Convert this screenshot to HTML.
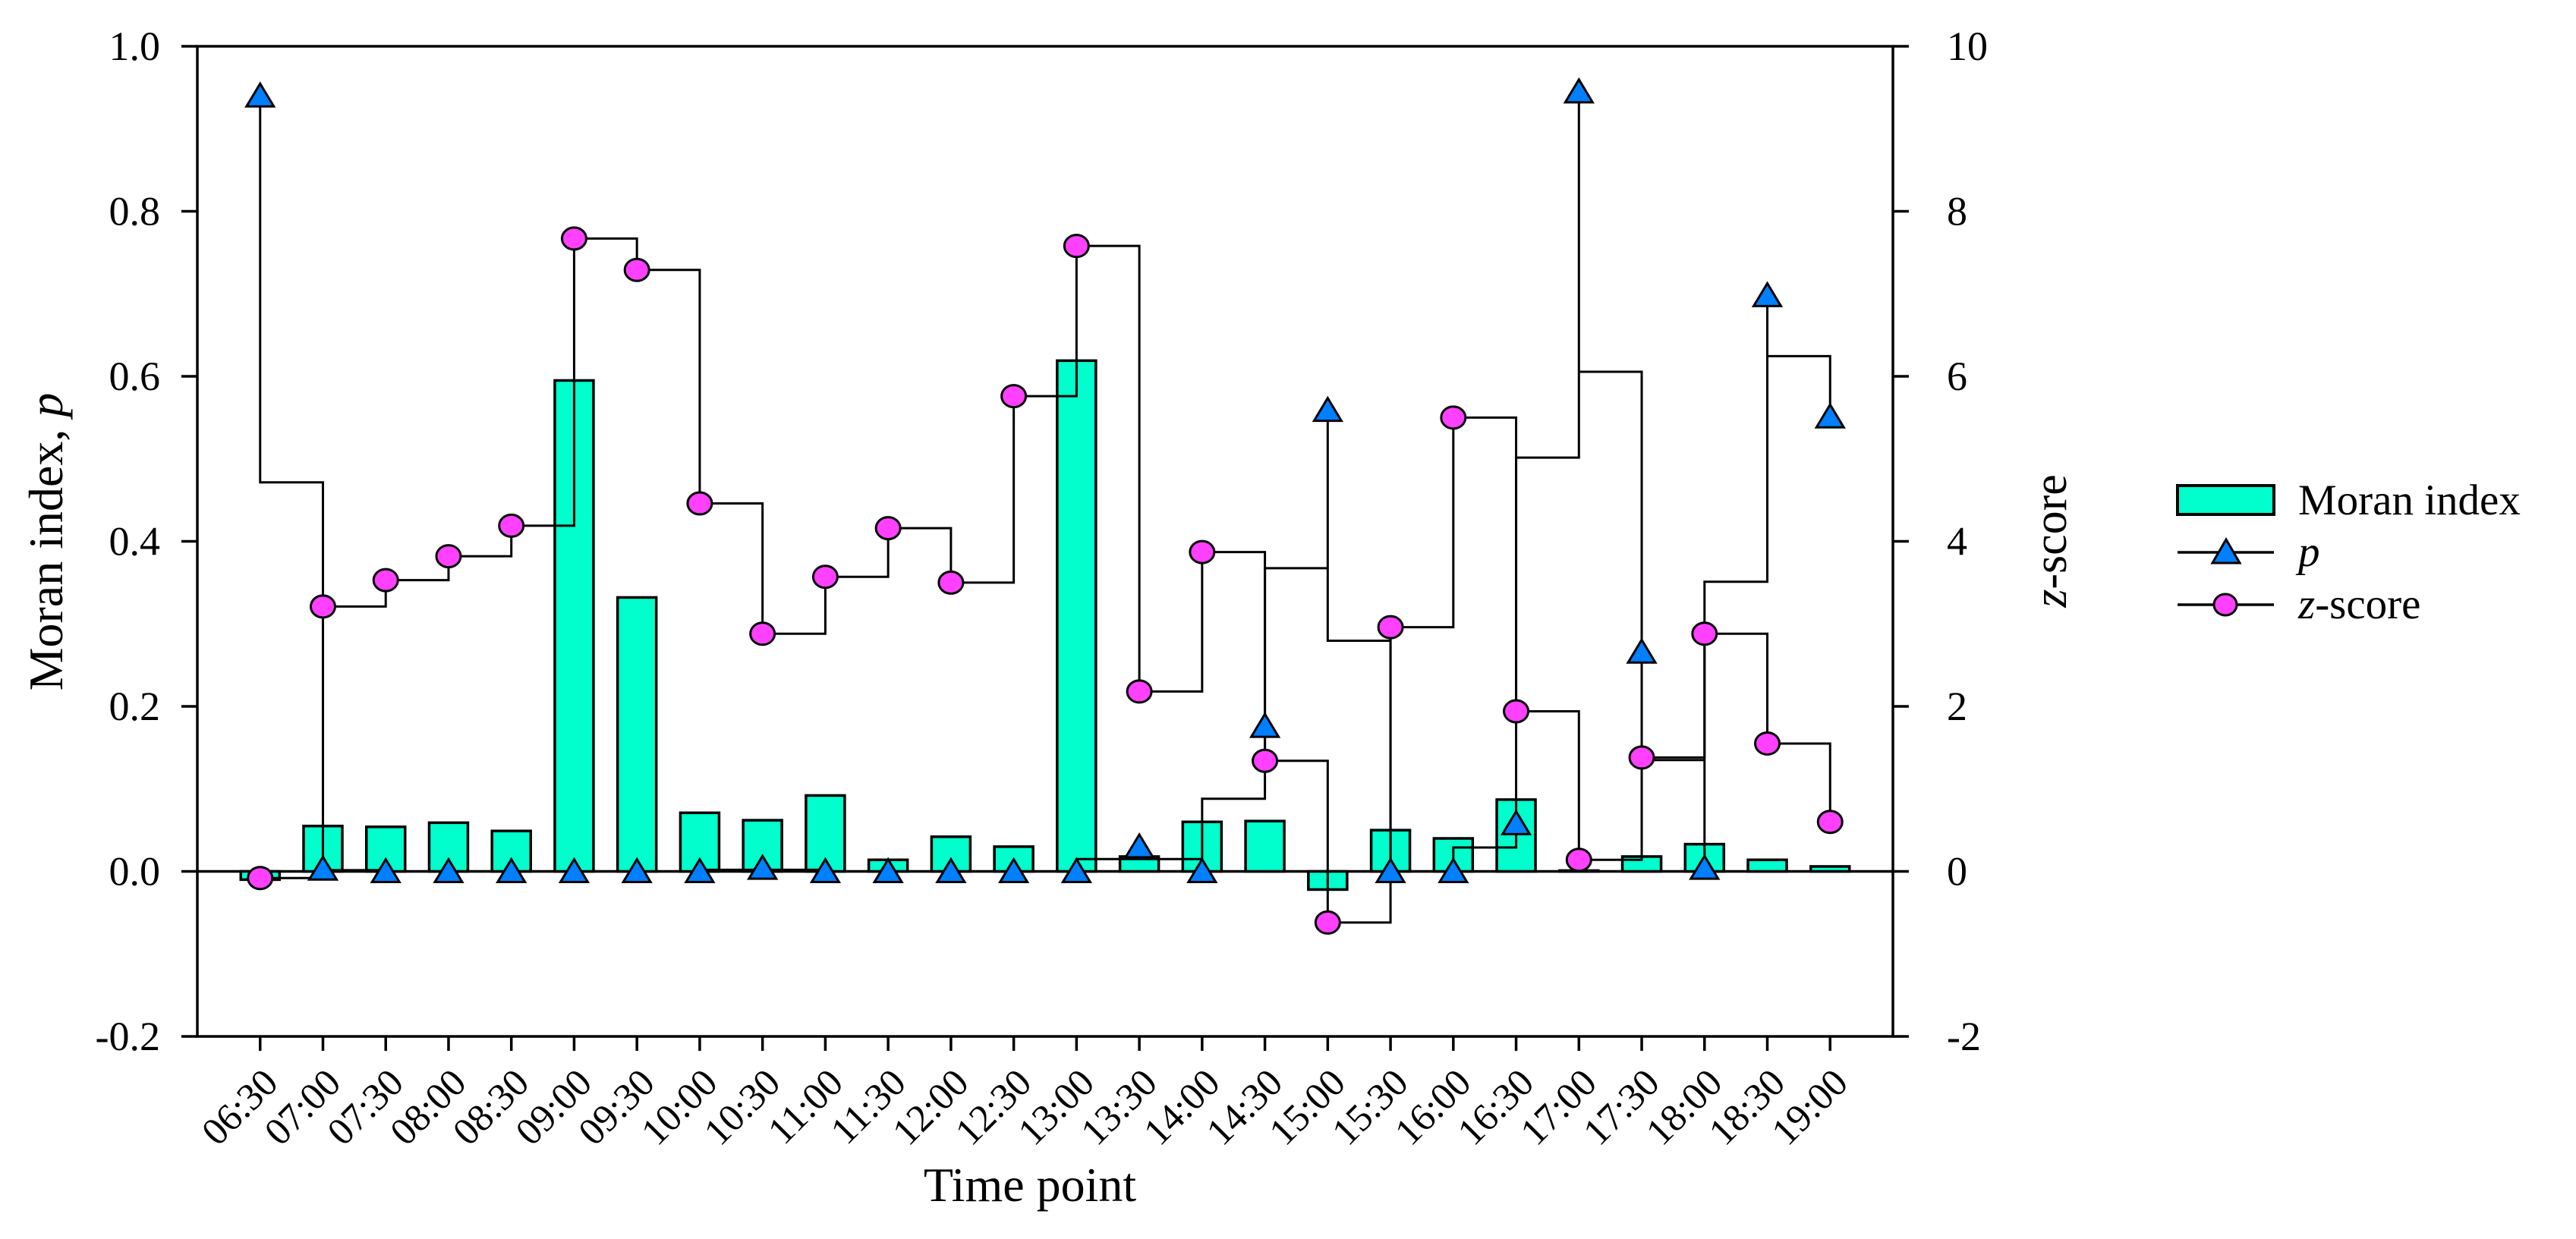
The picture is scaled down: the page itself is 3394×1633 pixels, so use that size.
<!DOCTYPE html>
<html><head><meta charset="utf-8"><style>
html,body{margin:0;padding:0;background:#fff;}
svg{display:block;font-family:"Liberation Serif",serif;}
</style></head><body>
<svg id="chart" width="3394" height="1633" viewBox="0 0 3394 1633" xmlns="http://www.w3.org/2000/svg">
<g id="axes"></g>
<g id="bars"></g>
<g id="lines"></g>
<g id="marks"></g>
<text x="1357" y="1583" font-size="64" text-anchor="middle">Time point</text>
<text transform="translate(82,714) rotate(-90)" font-size="64" text-anchor="middle">Moran index, <tspan font-style="italic">p</tspan></text>
<text transform="translate(2722,713) rotate(-90)" font-size="62" text-anchor="middle"><tspan font-style="italic">z</tspan>-score</text>
<g>
  <rect x="2869" y="640" width="127" height="38" fill="#00FFCC" stroke="#000" stroke-width="4"/>
  <text x="3028" y="678" font-size="57">Moran index</text>
  <line x1="2869" y1="728" x2="2996" y2="728" stroke="#000" stroke-width="3.5"/>
  <polygon points="2933,711 2951,742 2915,742" fill="#0080FF" stroke="#000" stroke-width="3"/>
  <text x="3028" y="746" font-size="57" font-style="italic">p</text>
  <line x1="2869" y1="797" x2="2996" y2="797" stroke="#000" stroke-width="3.5"/>
  <ellipse cx="2932" cy="797" rx="15" ry="14" fill="#FF40FF" stroke="#000" stroke-width="3"/>
  <text x="3028" y="815" font-size="57"><tspan font-style="italic">z</tspan>-score</text>
</g>
</svg>
<script>
const categories = ["06:30","07:00","07:30","08:00","08:30","09:00","09:30","10:00","10:30","11:00","11:30","12:00","12:30","13:00","13:30","14:00","14:30","15:00","15:30","16:00","16:30","17:00","17:30","18:00","18:30","19:00"];
const moranValues = [-0.01,0.055,0.054,0.059,0.049,0.595,0.332,0.071,0.062,0.092,0.014,0.042,0.030,0.619,0.018,0.060,0.061,-0.022,0.050,0.040,0.087,0.001,0.018,0.033,0.014,0.006];
const pValues = [0.94,0.003,0,0,0,0,0,0,0.004,0,0,0,0,0,0.030,0,0.176,0.559,0,0,0.058,0.945,0.266,0.004,0.698,0.551];
const zValues = [-0.08,3.21,3.53,3.82,4.19,7.67,7.29,4.46,2.88,3.57,4.16,3.50,5.76,7.58,2.18,3.87,1.34,-0.62,2.96,5.50,1.94,0.14,1.38,2.88,1.55,0.60];
const leftTicks = ["-0.2","0.0","0.2","0.4","0.6","0.8","1.0"];
const rightTicks = ["-2","0","2","4","6","8","10"];

const NS = "http://www.w3.org/2000/svg";
const L = 260, R = 2494, T = 61, B = 1366;
const step = (R - L) / (categories.length + 1);
function xPos(i){ return L + step * (i + 1); }
function yLeft(v){ return B - (v + 0.2) / 1.2 * (B - T); }
function yRight(v){ return B - (v + 2) / 12 * (B - T); }
function mk(tag, attrs, parent){
  const e = document.createElementNS(NS, tag);
  for (const k in attrs) e.setAttribute(k, attrs[k]);
  parent.appendChild(e);
  return e;
}
const axes = document.getElementById('axes');
const bars = document.getElementById('bars');
const lines = document.getElementById('lines');
const marks = document.getElementById('marks');

let fr = mk('rect', {x:L, y:T, width:R-L, height:B-T, fill:'none', stroke:'#000', 'stroke-width':3.5}, axes);


let zl = mk('line', {x1:L, x2:R, y1:yLeft(0), y2:yLeft(0), stroke:'#000', 'stroke-width':3.5}, axes);



leftTicks.forEach(function(t){
  const y = yLeft(parseFloat(t));
  const tk = mk('line', {x1:L-21, x2:L, y1:y, y2:y, stroke:'#000', 'stroke-width':3.5}, axes);
  
  
  const tx = mk('text', {x:211, y:y+18, 'font-size':54, 'text-anchor':'end'}, axes);
  tx.textContent = t;
  
  
});
rightTicks.forEach(function(t){
  const y = yRight(parseFloat(t));
  const tk = mk('line', {x1:R, x2:R+21, y1:y, y2:y, stroke:'#000', 'stroke-width':3.5}, axes);
  
  
  const tx = mk('text', {x:2565, y:y+18, 'font-size':54}, axes);
  tx.textContent = t;
  
  
});
categories.forEach(function(c, i){
  const x = xPos(i);
  const tk = mk('line', {x1:x, x2:x, y1:B, y2:B+19, stroke:'#000', 'stroke-width':3.5}, axes);
  
  
  const tx = mk('text', {transform:'translate(' + (x+26) + ',1430) rotate(-45)', 'font-size':51, 'text-anchor':'end'}, axes);
  tx.textContent = c;
  
  
});

const bw = 51;
moranValues.forEach(function(v, i){
  const y0 = yLeft(0), y1 = yLeft(v);
  const r = mk('rect', {x:xPos(i)-bw/2, y:Math.min(y0,y1), width:bw, height:Math.max(Math.abs(y1-y0),1), fill:'#00FFCC', stroke:'#000', 'stroke-width':3.5}, bars);
  
  
});

let dp = 'M' + xPos(0) + ' ' + yLeft(pValues[0]);
for (let i = 0; i < pValues.length - 1; i++){
  const m = yLeft((pValues[i] + pValues[i+1]) / 2);
  dp += ' V' + m + ' H' + xPos(i+1) + ' V' + yLeft(pValues[i+1]);
}
const pl = mk('path', {d:dp, fill:'none', stroke:'#000', 'stroke-width':3}, lines);



let dz = 'M' + xPos(0) + ' ' + yRight(zValues[0]);
for (let i = 0; i < zValues.length - 1; i++){
  dz += ' H' + xPos(i+1) + ' V' + yRight(zValues[i+1]);
}
const zlp = mk('path', {d:dz, fill:'none', stroke:'#000', 'stroke-width':3}, lines);



pValues.forEach(function(v, i){
  const x = xPos(i), y = yLeft(v);
  const t = mk('polygon', {points:(x)+','+(y-16)+' '+(x+18)+','+(y+14)+' '+(x-18)+','+(y+14), fill:'#0080FF', stroke:'#000', 'stroke-width':3}, marks);
  
  
});
zValues.forEach(function(v, i){
  const e = mk('ellipse', {cx:xPos(i), cy:yRight(v), rx:16, ry:14.5, fill:'#FF40FF', stroke:'#000', 'stroke-width':3}, marks);
  
  
});
</script>
</body></html>
